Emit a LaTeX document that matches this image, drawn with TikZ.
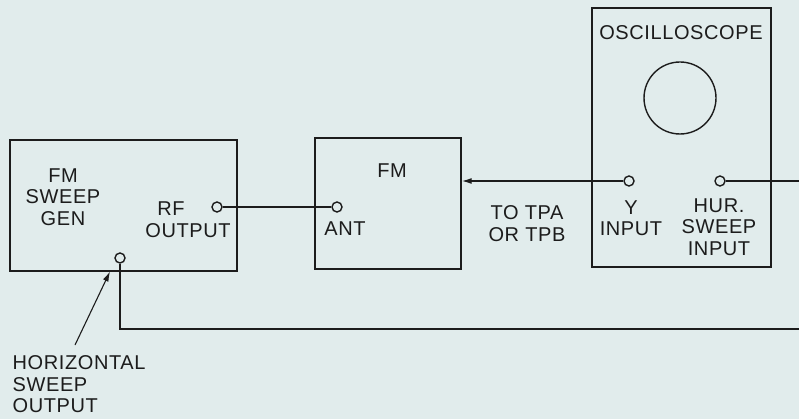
\documentclass[tikz,border=0pt]{standalone}
\usepackage{fontspec}
\setmainfont{Liberation Sans}[LetterSpace=3]
\usetikzlibrary{arrows.meta}
\definecolor{paper}{RGB}{225,236,236}
\definecolor{ink}{RGB}{28,28,28}
\begin{document}
\begin{tikzpicture}[x=1pt,y=-1pt,line width=1.4pt,draw=ink,
  box/.style={draw,rectangle,inner sep=0pt},
  term/.style={draw,circle,inner sep=0pt,minimum size=10pt,fill=paper},
  lbl/.style={inner sep=0pt,anchor=north,text=ink,font=\fontsize{20}{21.5}\selectfont,align=center},
  tip/.style={-{Latex[length=10pt,width=6pt]}}]
\fill[paper] (0,0) rectangle (799,419);
\useasboundingbox (0,0) rectangle (799,419);
% boxes
\node[box,minimum width=227pt,minimum height=131pt] (gen) at (123.5,205.5) {};
\node[box,minimum width=146pt,minimum height=131pt] (fm) at (388,203.5) {};
\node[box,minimum width=179pt,minimum height=259pt] (osc) at (681.5,137.5) {};
\node[draw,circle,inner sep=0pt,minimum size=72pt] (screen) at (680,98) {};
% terminals
\node[term] (rf) at (217,207) {};
\node[term] (ant) at (337,207) {};
\node[term] (hso) at (120,258) {};
\node[term] (yin) at (629,181) {};
\node[term] (hur) at (720,181) {};
% labels
\node[lbl] (tgen) at (63,168) {FM\\SWEEP\\GEN};
\node[lbl] (trf) at (171,201) {RF};
\node[lbl] (trfo) at (188,223) {OUTPUT};
\node[lbl] (tfm) at (392,163) {FM};
\node[lbl] (tant) at (345,221) {ANT};
\node[lbl] (ttpa) at (527,205) {TO TPA\\OR TPB};
\node[lbl] (tosc) at (681,25) {OSCILLOSCOPE};
\node[lbl] (ty) at (631,200) {Y\\INPUT};
\node[lbl] (thur) at (719,198) {HUR.\\SWEEP\\INPUT};
\node[lbl,anchor=north west,align=left] (thso) at (12,355) {HORIZONTAL\\SWEEP\\OUTPUT};
% connectors
\draw (rf) -- (ant);
\coordinate (yarr) at (fm.east |- yin);
\draw[tip] (yin) -- (yarr);
\coordinate (hurend) at (799,181);
\draw (hur) -- (hurend);
\coordinate (loopend) at (799,329);
\draw (hso) |- (loopend);
\coordinate (ldstart) at (75,345);
\coordinate (ldtip) at (110,271.5);
\draw[tip,line width=1.1pt] (ldstart) -- (ldtip);
\end{tikzpicture}
\end{document}
